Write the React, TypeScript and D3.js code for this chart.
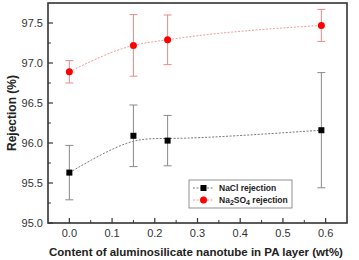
import React, { useEffect, useRef } from "react";
import * as d3 from "d3";

// nanotube content (wt%)
const contents = [0, 0.15, 0.23, 0.59];

// NaCl rejection (%) and standard deviation
const naclRejection = [95.63, 96.09, 96.03, 96.16];
const naclError = [0.34, 0.385, 0.315, 0.72];

// Na2SO4 rejection (%) and standard deviation
const na2so4Rejection = [96.89, 97.22, 97.29, 97.47];
const na2so4Error = [0.14, 0.385, 0.31, 0.2];

const xTicks = [0, 0.1, 0.2, 0.3, 0.4, 0.5, 0.6];
const yTicks = [95.0, 95.5, 96.0, 96.5, 97.0, 97.5];

const WIDTH = 359;
const HEIGHT = 260;
const margin = { top: 3, right: 12, bottom: 37, left: 48 };

export default function App() {
  const ref = useRef<SVGSVGElement>(null);

  useEffect(() => {
    const svg = d3.select(ref.current);
    svg.selectAll("*").remove();

    const x = d3.scaleLinear().domain([-0.05, 0.65]).range([margin.left, WIDTH - margin.right]);
    const y = d3.scaleLinear().domain([95, 97.75]).range([HEIGHT - margin.bottom, margin.top]);
    const font = "Liberation Sans, Arial, sans-serif";

    const series = [
      { key: "nacl", values: naclRejection, errors: naclError, line: "#555", bar: "#8a8a8a", fill: "#000", curve: d3.curveBasis },
      { key: "na2so4", values: na2so4Rejection, errors: na2so4Error, line: "#f08080", bar: "#ee8a8a", fill: "#ff0000", curve: d3.curveMonotoneX },
    ];

    series.forEach((s) => {
      // smoothed connecting curve
      const line = d3.line<[number, number]>()
        .x((d) => x(d[0]))
        .y((d) => y(d[1]))
        .curve(s.curve);
      const pts = contents.map((c, i) => [c, s.values[i]] as [number, number]);
      svg.append("path")
        .attr("d", line(pts))
        .attr("fill", "none")
        .attr("stroke", s.line)
        .attr("stroke-width", 0.8)
        .attr("stroke-dasharray", "2,1.5");

      const g = svg.append("g");
      // error bars
      contents.forEach((c, i) => {
        const cx = x(c);
        const top = y(s.values[i] + s.errors[i]);
        const bot = y(s.values[i] - s.errors[i]);
        g.append("line").attr("x1", cx).attr("x2", cx).attr("y1", top).attr("y2", bot)
          .attr("stroke", s.bar).attr("stroke-width", 1);
        [top, bot].forEach((yy) => {
          g.append("line").attr("x1", cx - 4).attr("x2", cx + 4).attr("y1", yy).attr("y2", yy)
            .attr("stroke", s.bar).attr("stroke-width", 1);
        });
      });
      // markers
      contents.forEach((c, i) => {
        if (s.key === "nacl") {
          g.append("rect").attr("x", x(c) - 3).attr("y", y(s.values[i]) - 3)
            .attr("width", 6).attr("height", 6).attr("fill", s.fill);
        } else {
          g.append("circle").attr("cx", x(c)).attr("cy", y(s.values[i])).attr("r", 3.5)
            .attr("fill", s.fill);
        }
      });
    });

    // frame
    svg.append("rect")
      .attr("x", margin.left).attr("y", margin.top)
      .attr("width", WIDTH - margin.left - margin.right)
      .attr("height", HEIGHT - margin.top - margin.bottom)
      .attr("fill", "none").attr("stroke", "#333").attr("stroke-width", 1.6);

    // inward ticks
    const xb = HEIGHT - margin.bottom;
    xTicks.forEach((t) => {
      svg.append("line").attr("x1", x(t)).attr("x2", x(t)).attr("y1", xb).attr("y2", xb - 5)
        .attr("stroke", "#333").attr("stroke-width", 1.2);
      svg.append("text").attr("x", x(t)).attr("y", xb + 14).attr("text-anchor", "middle")
        .attr("font-family", font).attr("font-size", 11).attr("fill", "#333").text(t.toFixed(1));
    });
    d3.range(0.05, 0.65, 0.1).forEach((t) => {
      svg.append("line").attr("x1", x(t)).attr("x2", x(t)).attr("y1", xb).attr("y2", xb - 3)
        .attr("stroke", "#333").attr("stroke-width", 1);
    });
    yTicks.forEach((t) => {
      svg.append("line").attr("x1", margin.left).attr("x2", margin.left + 5).attr("y1", y(t)).attr("y2", y(t))
        .attr("stroke", "#333").attr("stroke-width", 1.2);
      svg.append("text").attr("x", margin.left - 5).attr("y", y(t) + 4).attr("text-anchor", "end")
        .attr("font-family", font).attr("font-size", 11).attr("fill", "#333").text(t.toFixed(1));
    });
    d3.range(95.25, 97.75, 0.5).forEach((t) => {
      svg.append("line").attr("x1", margin.left).attr("x2", margin.left + 3).attr("y1", y(t)).attr("y2", y(t))
        .attr("stroke", "#333").attr("stroke-width", 1);
    });

    // axis titles
    svg.append("text")
      .attr("x", 196).attr("y", 256).attr("text-anchor", "middle")
      .attr("font-family", font).attr("font-size", 11.5).attr("font-weight", "bold").attr("fill", "#222")
      .text("Content of aluminosilicate nanotube in PA layer (wt%)");
    svg.append("text")
      .attr("transform", `translate(16, ${(margin.top + HEIGHT - margin.bottom) / 2}) rotate(-90)`)
      .attr("text-anchor", "middle")
      .attr("font-family", font).attr("font-size", 12).attr("font-weight", "bold").attr("fill", "#222")
      .text("Rejection (%)");

    // legend
    const lg = svg.append("g").attr("transform", "translate(189, 180)");
    lg.append("rect").attr("width", 103).attr("height", 28)
      .attr("fill", "#fff").attr("stroke", "#777").attr("stroke-width", 0.8);
    series.forEach((s, i) => {
      const ly = 8 + i * 12;
      lg.append("line").attr("x1", 4).attr("x2", 25).attr("y1", ly).attr("y2", ly)
        .attr("stroke", s.line).attr("stroke-width", 0.8).attr("stroke-dasharray", "2,1.5");
      if (s.key === "nacl") {
        lg.append("rect").attr("x", 11.5).attr("y", ly - 3).attr("width", 6).attr("height", 6).attr("fill", s.fill);
      } else {
        lg.append("circle").attr("cx", 14.5).attr("cy", ly).attr("r", 3.5).attr("fill", s.fill);
      }
      const t = lg.append("text").attr("x", 30).attr("y", ly + 3)
        .attr("font-family", font).attr("font-size", 8.5).attr("font-weight", "bold").attr("fill", "#222");
      if (s.key === "nacl") {
        t.text("NaCl rejection");
      } else {
        t.append("tspan").text("Na");
        t.append("tspan").attr("dy", 2).attr("font-size", 7).text("2");
        t.append("tspan").attr("dy", -2).text("SO");
        t.append("tspan").attr("dy", 2).attr("font-size", 7).text("4");
        t.append("tspan").attr("dy", -2).text(" rejection");
      }
    });
  }, []);

  return (
    <svg
      ref={ref}
      width={WIDTH}
      height={HEIGHT}
      style={{ position: "absolute", left: 0, top: 0, background: "#fff" }}
    />
  );
}
